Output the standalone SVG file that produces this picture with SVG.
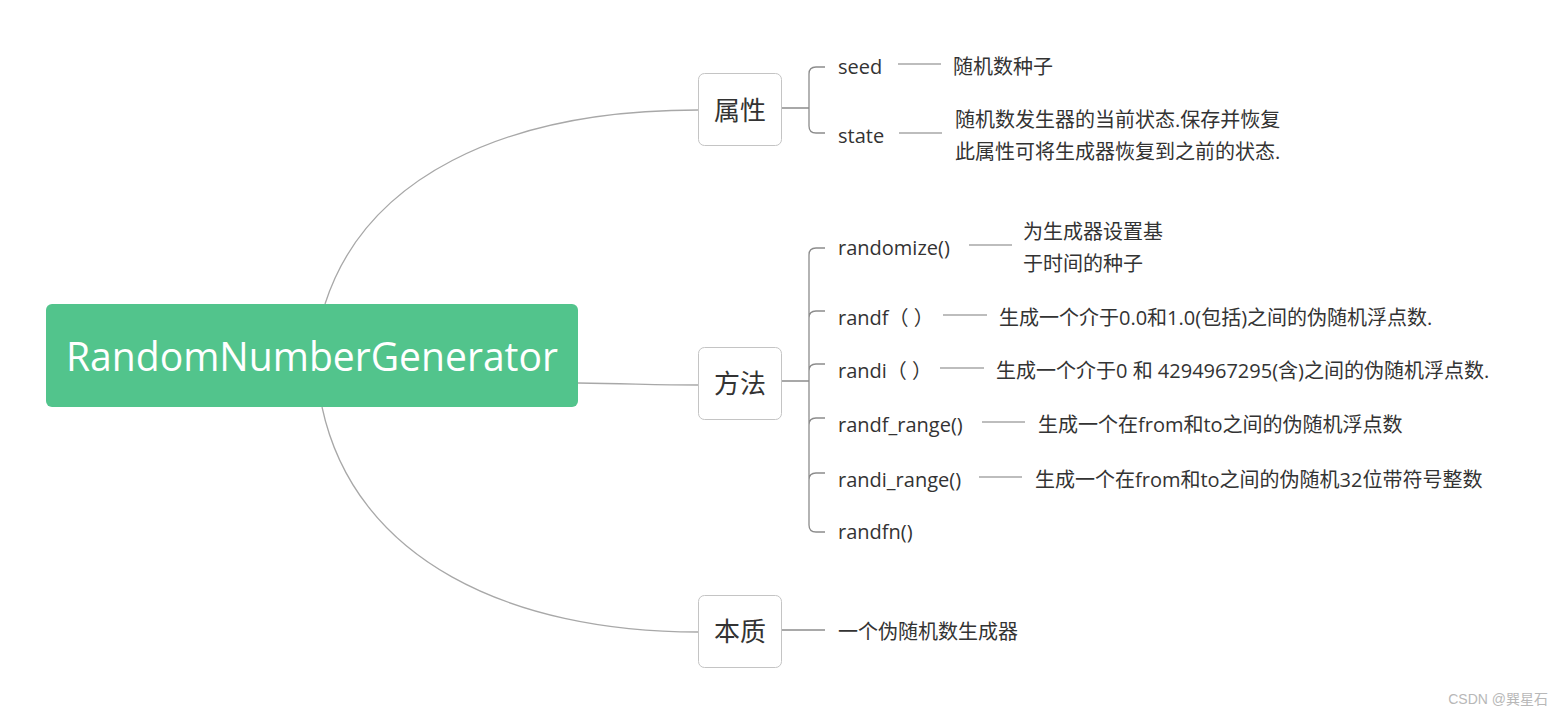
<svg xmlns="http://www.w3.org/2000/svg" width="1564" height="717" viewBox="0 0 1564 717">
<style>
.t{font-family:"Open Sans","Noto Sans CJK SC",sans-serif;font-size:20px;fill:#333}
.bt{font-family:"Noto Sans CJK SC","Open Sans",sans-serif;font-size:26px;fill:#333}
.box{fill:#fff;stroke:#c4c4c4;stroke-width:1}
.c{fill:none;stroke:#a8a8a8;stroke-width:1.3}
.b{fill:none;stroke:#8c8c8c;stroke-width:1.3}
</style>
<rect width="1564" height="717" fill="#fff"/>
<g id="connectors">
<path class="c" d="M325,304 C365,180 500,110 698,110"/>
<path class="c" d="M578,383 C640,384 660,385 698,385"/>
<path class="c" d="M322,407 C355,560 510,632 698,632"/>
<path class="b" d="M781,108 H809 M825,67 H816 Q809,67 809,74 V126 Q809,133 816,133 H825"/>
<path class="b" d="M781,381 H809 M825,248 H816 Q809,248 809,255 V525 Q809,532 816,532 H825 M809,318 Q809,311 816,311 H825 M809,371 Q809,364 816,364 H825 M809,425 Q809,418 816,418 H825 M809,480 Q809,473 816,473 H825"/>
<path class="b" d="M781,630 H825"/>
<path class="c" d="M898,64 H941 M899,133 H942 M969,245 H1012 M943,315 H987 M940,368 H984 M982,422 H1025 M979,477 H1022"/>
</g>
<g id="root">
<rect x="46" y="304" width="532" height="103" rx="6" fill="#52c48c"/>
<text x="312" y="371" text-anchor="middle" font-family="'Open Sans','Noto Sans',sans-serif" font-size="39.5" fill="#fff" textLength="492" lengthAdjust="spacingAndGlyphs">RandomNumberGenerator</text>
</g>
<g id="n-shuxing">
<rect class="box" x="698.5" y="73.5" width="83" height="72" rx="6"/>
<text class="bt" x="740" y="120" text-anchor="middle">属性</text>
</g>
<g id="n-fangfa">
<rect class="box" x="698.5" y="347.5" width="83" height="72" rx="6"/>
<text class="bt" x="740" y="393" text-anchor="middle">方法</text>
</g>
<g id="n-benzhi">
<rect class="box" x="698.5" y="595.5" width="83" height="72" rx="6"/>
<text class="bt" x="740" y="641" text-anchor="middle">本质</text>
</g>
<g id="seed"><text class="t" x="838" y="74">seed</text></g>
<g id="seed-desc"><text class="t" x="953" y="74">随机数种子</text></g>
<g id="state"><text class="t" x="838" y="143">state</text></g>
<g id="state-desc"><text class="t" x="955" y="127">随机数发生器的当前状态.保存并恢复</text><text class="t" x="955" y="159">此属性可将生成器恢复到之前的状态.</text></g>
<g id="randomize"><text class="t" x="838" y="255">randomize()</text></g>
<g id="randomize-desc"><text class="t" x="1023" y="239">为生成器设置基</text><text class="t" x="1023" y="271">于时间的种子</text></g>
<g id="randf"><text class="t" x="838" y="325">randf（ ）</text></g>
<g id="randf-desc"><text class="t" x="999" y="325">生成一个介于0.0和1.0(包括)之间的伪随机浮点数.</text></g>
<g id="randi"><text class="t" x="838" y="378">randi（ ）</text></g>
<g id="randi-desc"><text class="t" x="996" y="378">生成一个介于0 和 4294967295(含)之间的伪随机浮点数.</text></g>
<g id="randf_range"><text class="t" x="838" y="432">randf_range()</text></g>
<g id="randf_range-desc"><text class="t" x="1038" y="432">生成一个在from和to之间的伪随机浮点数</text></g>
<g id="randi_range"><text class="t" x="838" y="487">randi_range()</text></g>
<g id="randi_range-desc"><text class="t" x="1035" y="487">生成一个在from和to之间的伪随机32位带符号整数</text></g>
<g id="randfn"><text class="t" x="838" y="539">randfn()</text></g>
<g id="benzhi-desc"><text class="t" x="838" y="639">一个伪随机数生成器</text></g>
<text x="1548" y="704" text-anchor="end" font-family="'Liberation Sans','Noto Sans CJK SC',sans-serif" font-size="14" fill="#b8b8b8">CSDN @巽星石</text>
</svg>
